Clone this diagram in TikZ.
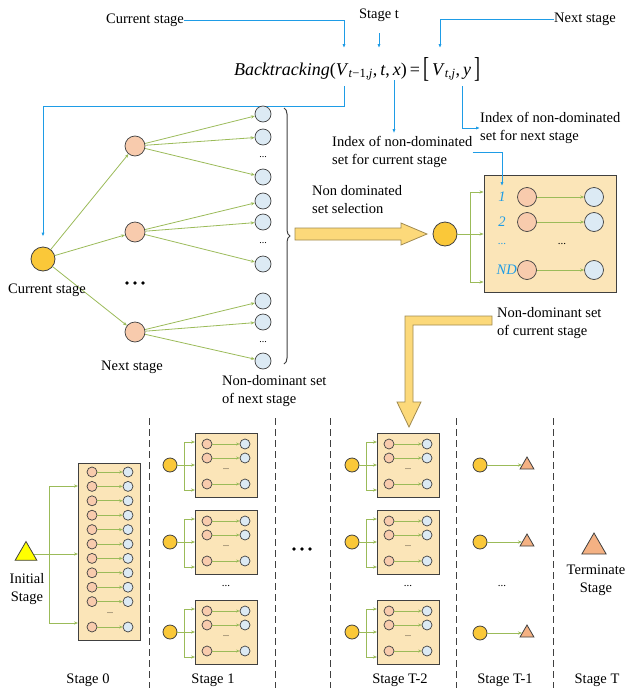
\documentclass[tikz,border=0pt]{standalone}
\usepackage{fontspec}
\usepackage{graphicx}
\setmainfont{Liberation Serif}
\usetikzlibrary{arrows.meta,shapes.geometric,decorations.pathreplacing,calc}
\definecolor{cyel}{HTML}{FAC839}
\definecolor{cred}{HTML}{F8CBAD}
\definecolor{cblu}{HTML}{DCEAF4}
\definecolor{cbox}{HTML}{FBE5B8}
\definecolor{cgrn}{HTML}{9BBB59}
\definecolor{cln}{HTML}{1E9CE6}
\definecolor{carr}{HTML}{FCD97A}
\definecolor{carre}{HTML}{A08A50}
\definecolor{cedge}{HTML}{404040}
\definecolor{ctri}{HTML}{FFFF00}
\definecolor{cterm}{HTML}{F4B183}
\newcommand\stgbox[3]{%
  \node[setbox, minimum width=62pt, minimum height=64pt, anchor=north west] (#1box) at (#2,#3) {};
  \node[ycirc=14pt] (#1c) at ($(#2,#3)+(-25,32)$) {};
  \node[rcirc=10pt] (#1r1) at ($(#2,#3)+(12,11)$) {};
  \node[rcirc=10pt] (#1r2) at ($(#2,#3)+(12,25)$) {};
  \node[rcirc=10pt] (#1r3) at ($(#2,#3)+(12,51)$) {};
  \node[bcirc=10pt] (#1b1) at ($(#2,#3)+(50,11)$) {};
  \node[bcirc=10pt] (#1b2) at ($(#2,#3)+(50,25)$) {};
  \node[bcirc=10pt] (#1b3) at ($(#2,#3)+(50,51)$) {};
  \node[dotsm] (#1d) at ($(#2,#3)+(31,36)$) {...};
  \foreach \i in {1,2,3}{\draw[sarr] (#1r\i) -- (#1b\i);}
  \coordinate (#1k) at ($(#2,#3)+(-11,32)$);
  \coordinate (#1ka) at ($(#2,#3)+(-11,9)$);
  \coordinate (#1kb) at ($(#2,#3)+(-11,57)$);
  \draw[gline] (#1c.east) -- (#1k);
  \draw[gline] (#1ka) -- (#1kb);
  \draw[garr] (#1ka) -- (#1ka -| #1box.west);
  \draw[garr] (#1k) -- (#1k -| #1box.west);
  \draw[garr] (#1kb) -- (#1kb -| #1box.west);
}
\begin{document}
\begin{tikzpicture}[x=1pt,y=-1pt,
  lab/.style={font=\fontsize{14.5}{18}\selectfont, inner sep=0pt},
  ycirc/.style={circle, draw=cedge, fill=cyel, line width=0.8pt, inner sep=0pt, minimum size=#1},
  rcirc/.style={circle, draw=cedge, fill=cred, line width=0.7pt, inner sep=0pt, minimum size=#1},
  bcirc/.style={circle, draw=cedge, fill=cblu, line width=0.7pt, inner sep=0pt, minimum size=#1},
  tri/.style={regular polygon, regular polygon sides=3, draw=cedge, line width=0.8pt, inner sep=0pt},
  garr/.style={draw=cgrn, line width=0.8pt, -{Stealth[length=4pt,width=3.2pt]}},
  sarr/.style={draw=cgrn, line width=0.7pt, -{Stealth[length=3.5pt,width=3pt]}},
  gline/.style={draw=cgrn, line width=0.8pt},
  blarr/.style={draw=cln, line width=0.9pt, -{Latex[length=4pt,width=3.2pt]}},
  setbox/.style={draw=cedge, fill=cbox, line width=0.9pt, inner sep=0pt},
  bigarr/.style={draw=carre, fill=carr, line width=0.8pt},
  sep/.style={draw=cedge, line width=0.8pt, dash pattern=on 7pt off 4pt},
  dotsm/.style={font=\fontsize{8}{8}\selectfont, inner sep=0pt},
  dotmd/.style={font=\fontsize{11}{11}\selectfont, inner sep=0pt},
]
\useasboundingbox (0,0) rectangle (626,691);

% ---------- top formula and labels ----------
\node[lab, anchor=west] (cur) at (106,20) {Current stage};
\node[lab] (st) at (379,15) {Stage t};
\node[lab, anchor=east] (nxt) at (616,19) {Next stage};
\node[inner sep=0pt, font=\fontsize{18}{20}\selectfont] (form) at (357,69)
  {\textit{Backtracking}(\textit{V}\textsubscript{\textit{t}−1,\textit{j}},\,\textit{t},\,\textit{x})\,=\,\raisebox{-0.25ex}{\scalebox{1}[1.6]{[}}\,\textit{V}\textsubscript{\textit{t},\textit{j}},\,\textit{y}\,\raisebox{-0.25ex}{\scalebox{1}[1.6]{]}}};
\coordinate (fVa) at (344,48);
\coordinate (fVb) at (344,86);
\coordinate (fta) at (379,33);
\coordinate (ftb) at (379,48);
\coordinate (fx) at (394,80);
\coordinate (fW) at (440,48);
\coordinate (fy) at (462,86);

\node[lab, anchor=west, align=left] (idxn) at (480,128) {Index of non-dominated\\set for next stage};
\node[lab, anchor=west, align=left] (idxc) at (332,152) {Index of non-dominated\\set for current stage};

\draw[blarr] (cur.east) -| (fVa);
\draw[blarr] (fta) -- (ftb);
\draw[blarr] (nxt.west) -| (fW);
\draw[blarr] (fy) |- (idxn.west);
\draw[blarr, shorten >=3pt] (fx) -- (fx |- idxc.north);

% ---------- left tree ----------
\node[ycirc=24pt] (c0) at (43,259) {};
\draw[blarr, shorten >=10pt] (fVb) -- ++(0,20) -| (c0.north);
\node[rcirc=20pt] (n1) at (135,146) {};
\node[rcirc=20pt] (n2) at (135,232) {};
\node[rcirc=20pt] (n3) at (135,332) {};
\foreach \n/\a/\b/\c/\d in {1/114/137/177/157, 2/201/222/264/243, 3/301/322/361/342}{
  \node[bcirc=16pt] (b\n a) at (263,\a) {};
  \node[bcirc=16pt] (b\n b) at (263,\b) {};
  \node[bcirc=16pt] (b\n c) at (263,\c) {};
  \node[font=\fontsize{10}{10}\selectfont, inner sep=0pt] (b\n d) at (263,\d) {...};
  \draw[garr] (c0) -- (n\n);
  \draw[garr] (n\n) -- (b\n a);
  \draw[garr] (n\n) -- (b\n b);
  \draw[garr] (n\n) -- (b\n c);
}
\foreach \xx in {127,135,143}{\fill (\xx,283) circle (1.9pt);}
\draw[cedge, line width=1pt, decorate, decoration={brace, amplitude=6pt}] (284,108) -- (284,364);
\node[lab] (curl) at (47,290) {Current stage};
\node[lab] (nxtl) at (132,367) {Next stage};
\node[lab, anchor=west, align=left] (ndn) at (222,391) {Non-dominant set\\of next stage};

% ---------- selection arrow ----------
\draw[bigarr] (295,228) -- (401,228) -- (401,223) -- (427,234) -- (401,245) -- (401,240) -- (295,240) -- cycle;
\node[lab, anchor=west, align=left] (sel) at (312,200) {Non dominated\\set selection};

% ---------- upper right box ----------
\node[setbox, minimum width=132pt, minimum height=117pt] (ubox) at (550,233.5) {};
\node[ycirc=24pt] (s0) at (445,234) {};
\foreach \r/\yy in {1/197, 2/222, 3/270}{
  \node[rcirc=19pt] (ur\r) at (527,\yy) {};
  \node[bcirc=19pt] (ub\r) at (594,\yy) {};
  \draw[garr] (ur\r) -- (ub\r);
}
\node[lab, text=cln, font=\itshape\fontsize{14.5}{18}\selectfont] (l1) at (502,197) {1};
\node[lab, text=cln, font=\itshape\fontsize{14.5}{18}\selectfont] (l2) at (502,222) {2};
\node[dotmd, text=cln] (l3) at (502,244) {...};
\node[lab, text=cln, font=\itshape\fontsize{14.5}{18}\selectfont, anchor=east] (l4) at (517,270) {ND};
\node[dotmd] (ud) at (562,244) {...};
\coordinate (uk) at (470,234);
\coordinate (uka) at (470,192);
\coordinate (ukb) at (470,282);
\draw[gline] (s0.east) -- (uk);
\draw[gline] (uka) -- (ukb);
\draw[garr] (uka) -- (uka -| ubox.west);
\draw[garr] (uk) -- (uk -| ubox.west);
\draw[garr] (ukb) -- (ukb -| ubox.west);
\draw[blarr, shorten >=6pt] (idxc.east) -| (l1.north);

% ---------- L arrow ----------
\draw[bigarr] (492,316) -- (405,316) -- (405,402) -- (397,402) -- (409,427) -- (421,402) -- (413,402) -- (413,325) -- (492,325) -- cycle;
\node[lab, anchor=west, align=left] (ndc) at (497,323) {Non-dominant set\\of current stage};

% ---------- bottom stages ----------
\foreach \xx in {149,275,330,456,553}{\draw[sep] (\xx,418) -- (\xx,688);}

% stage 0
\node[setbox, minimum width=62pt, minimum height=177pt, anchor=north west] (zbox) at (78,463) {};
\foreach \k in {0,...,9}{
  \node[rcirc=10pt] (zr\k) at (92,{472+14.4*\k}) {};
  \node[bcirc=10pt] (zb\k) at (128,{472+14.4*\k}) {};
  \draw[sarr] (zr\k) -- (zb\k);
}
\node[rcirc=10pt] (zrl) at (92,627) {};
\node[bcirc=10pt] (zbl) at (128,627) {};
\draw[sarr] (zrl) -- (zbl);
\node[dotsm] (zd) at (110,613) {...};
\node[tri, fill=ctri, minimum size=25pt] (tri0) at (26,554) {};
\coordinate (zk) at (49,554);
\coordinate (zka) at (49,486);
\coordinate (zkb) at (49,623);
\draw[garr] (tri0.east) -- (zk -| zbox.west);
\draw[gline] (zka) -- (zkb);
\draw[garr] (zka) -- (zka -| zbox.west);
\draw[garr] (zkb) -- (zkb -| zbox.west);
\node[lab, align=center] (init) at (27,589) {Initial\\Stage};

% stage 1 and stage T-2
\stgbox{sa}{195}{433}
\stgbox{sb}{195}{510}
\stgbox{sc}{195}{600}
\stgbox{ta}{377}{433}
\stgbox{tb}{377}{510}
\stgbox{tc}{377}{600}
\node[dotmd] (sdd) at (226,586) {...};
\node[dotmd] (tdd) at (408,586) {...};
\foreach \xx in {294,302,310}{\fill (\xx,549) circle (1.9pt);}

% stage T-1
\foreach \n/\yy in {a/465, b/542, c/633}{
  \node[ycirc=14pt] (uc\n) at (480,\yy) {};
  \node[tri, fill=cterm, minimum size=16pt] (ut\n) at (527,\yy) {};
  \draw[garr] (uc\n.east) -- (ut\n.west);
}
\node[dotmd] (udd) at (502,586) {...};

% stage T
\node[tri, fill=cterm, minimum size=28pt] (term) at (594,547) {};
\node[lab, align=center] (terml) at (596,580) {Terminate\\Stage};

% stage labels
\node[lab] (lab0) at (88,680) {Stage 0};
\node[lab] (lab1) at (213,680) {Stage 1};
\node[lab] (lab2) at (400,680) {Stage T-2};
\node[lab] (lab3) at (505,680) {Stage T-1};
\node[lab] (lab4) at (597,680) {Stage T};
\end{tikzpicture}
\end{document}
